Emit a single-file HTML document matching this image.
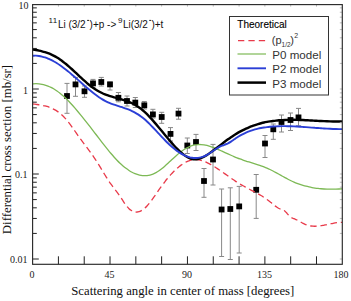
<!DOCTYPE html>
<html><head><meta charset="utf-8"><style>
html,body{margin:0;padding:0;background:#fff;width:351px;height:301px;overflow:hidden}
svg{display:block}
.serif{font-family:"Liberation Serif",serif}
.sans{font-family:"Liberation Sans",sans-serif}
</style></head><body>
<svg width="351" height="301" viewBox="0 0 351 301">
<rect width="351" height="301" fill="#fff"/>
<path d="M67.00,83.40V113.30 M64.50,83.40h5 M64.50,113.30h5 M75.50,77.40V96.30 M73.00,77.40h5 M73.00,96.30h5 M84.50,86.00V97.30 M82.00,86.00h5 M82.00,97.30h5 M93.00,79.40V87.40 M90.50,79.40h5 M90.50,87.40h5 M101.30,77.40V86.00 M98.80,77.40h5 M98.80,86.00h5 M110.00,82.00V90.00 M107.50,82.00h5 M107.50,90.00h5 M118.40,92.50V101.80 M115.90,92.50h5 M115.90,101.80h5 M127.00,96.00V106.00 M124.50,96.00h5 M124.50,106.00h5 M135.30,97.50V107.50 M132.80,97.50h5 M132.80,107.50h5 M144.30,101.50V109.00 M141.80,101.50h5 M141.80,109.00h5 M152.90,109.30V118.00 M150.40,109.30h5 M150.40,118.00h5 M161.70,112.30V123.30 M159.20,112.30h5 M159.20,123.30h5 M178.50,108.30V119.20 M176.00,108.30h5 M176.00,119.20h5 M170.50,127.60V141.00 M168.00,127.60h5 M168.00,141.00h5 M187.30,138.00V153.50 M184.80,138.00h5 M184.80,153.50h5 M196.00,134.40V150.50 M193.50,134.40h5 M193.50,150.50h5 M213.00,144.40V185.00 M210.50,144.40h5 M210.50,185.00h5 M204.00,168.50V197.30 M201.50,168.50h5 M201.50,197.30h5 M221.60,189.00V256.50 M219.10,189.00h5 M219.10,256.50h5 M230.30,187.80V259.50 M227.80,187.80h5 M227.80,259.50h5 M239.20,186.40V253.00 M236.70,186.40h5 M236.70,253.00h5 M256.20,174.50V218.40 M253.70,174.50h5 M253.70,218.40h5 M265.00,135.50V157.50 M262.50,135.50h5 M262.50,157.50h5 M273.30,124.00V139.30 M270.80,124.00h5 M270.80,139.30h5 M281.50,115.00V132.00 M279.00,115.00h5 M279.00,132.00h5 M290.50,113.00V130.50 M288.00,113.00h5 M288.00,130.50h5 M298.50,108.40V125.80 M296.00,108.40h5 M296.00,125.80h5" stroke="#888" stroke-width="1" fill="none"/>
<g fill="#000"><rect x="64.10" y="93.10" width="5.8" height="5.8"/><rect x="72.60" y="81.50" width="5.8" height="5.8"/><rect x="81.60" y="88.40" width="5.8" height="5.8"/><rect x="90.10" y="80.50" width="5.8" height="5.8"/><rect x="98.40" y="79.10" width="5.8" height="5.8"/><rect x="107.10" y="81.50" width="5.8" height="5.8"/><rect x="115.50" y="94.90" width="5.8" height="5.8"/><rect x="124.10" y="98.10" width="5.8" height="5.8"/><rect x="132.40" y="99.70" width="5.8" height="5.8"/><rect x="141.40" y="102.40" width="5.8" height="5.8"/><rect x="150.00" y="111.50" width="5.8" height="5.8"/><rect x="158.80" y="114.10" width="5.8" height="5.8"/><rect x="175.60" y="110.70" width="5.8" height="5.8"/><rect x="167.60" y="131.00" width="5.8" height="5.8"/><rect x="184.40" y="142.60" width="5.8" height="5.8"/><rect x="193.10" y="139.10" width="5.8" height="5.8"/><rect x="210.10" y="156.60" width="5.8" height="5.8"/><rect x="201.10" y="178.10" width="5.8" height="5.8"/><rect x="218.70" y="206.60" width="5.8" height="5.8"/><rect x="227.40" y="206.10" width="5.8" height="5.8"/><rect x="236.30" y="203.50" width="5.8" height="5.8"/><rect x="253.30" y="186.90" width="5.8" height="5.8"/><rect x="262.10" y="140.60" width="5.8" height="5.8"/><rect x="270.40" y="126.40" width="5.8" height="5.8"/><rect x="278.60" y="119.10" width="5.8" height="5.8"/><rect x="287.60" y="117.10" width="5.8" height="5.8"/><rect x="295.60" y="114.50" width="5.8" height="5.8"/></g>
<g fill="none" stroke-linecap="butt" stroke-linejoin="round">
<path d="M33.00,103.97 C33.33,104.02 34.33,104.14 35.00,104.23 C35.67,104.32 36.33,104.40 37.00,104.49 C37.67,104.58 38.33,104.68 39.00,104.78 C39.67,104.88 40.33,104.99 41.00,105.11 C41.67,105.23 42.33,105.35 43.00,105.49 C43.67,105.63 44.33,105.78 45.00,105.95 C45.67,106.11 46.33,106.29 47.00,106.49 C47.67,106.69 48.33,106.90 49.00,107.14 C49.67,107.38 50.33,107.63 51.00,107.91 C51.67,108.19 52.33,108.50 53.00,108.82 C53.67,109.15 54.33,109.51 55.00,109.89 C55.67,110.27 56.33,110.68 57.00,111.12 C57.67,111.57 58.33,112.04 59.00,112.55 C59.67,113.05 60.33,113.59 61.00,114.17 C61.67,114.75 62.33,115.36 63.00,116.01 C63.67,116.67 64.33,117.36 65.00,118.09 C65.67,118.82 66.33,119.60 67.00,120.41 C67.67,121.21 68.33,122.06 69.00,122.93 C69.67,123.80 70.33,124.70 71.00,125.61 C71.67,126.52 72.33,127.46 73.00,128.40 C73.67,129.34 74.33,130.30 75.00,131.25 C75.67,132.20 76.33,133.17 77.00,134.12 C77.67,135.07 78.33,136.02 79.00,136.95 C79.67,137.89 80.33,138.81 81.00,139.71 C81.67,140.62 82.33,141.51 83.00,142.39 C83.67,143.28 84.33,144.15 85.00,145.02 C85.67,145.90 86.33,146.77 87.00,147.65 C87.67,148.52 88.33,149.40 89.00,150.30 C89.67,151.19 90.33,152.09 91.00,153.01 C91.67,153.93 92.33,154.86 93.00,155.82 C93.67,156.79 94.33,157.77 95.00,158.78 C95.67,159.79 96.33,160.83 97.00,161.89 C97.67,162.95 98.33,164.03 99.00,165.12 C99.67,166.21 100.33,167.32 101.00,168.43 C101.67,169.53 102.33,170.65 103.00,171.75 C103.67,172.85 104.33,173.95 105.00,175.03 C105.67,176.11 106.33,177.18 107.00,178.22 C107.67,179.26 108.33,180.29 109.00,181.27 C109.67,182.25 110.33,183.20 111.00,184.13 C111.67,185.05 112.33,185.93 113.00,186.81 C113.67,187.69 114.33,188.55 115.00,189.42 C115.67,190.29 116.33,191.15 117.00,192.05 C117.67,192.95 118.33,193.85 119.00,194.81 C119.67,195.76 120.33,196.76 121.00,197.78 C121.67,198.79 122.33,199.86 123.00,200.88 C123.67,201.90 124.33,202.94 125.00,203.88 C125.67,204.83 126.33,205.74 127.00,206.54 C127.67,207.33 128.33,208.04 129.00,208.66 C129.67,209.28 130.33,209.81 131.00,210.26 C131.67,210.71 132.33,211.06 133.00,211.34 C133.67,211.62 134.33,211.81 135.00,211.92 C135.67,212.03 136.33,212.06 137.00,212.01 C137.67,211.97 138.33,211.84 139.00,211.64 C139.67,211.44 140.33,211.16 141.00,210.81 C141.67,210.46 142.33,210.04 143.00,209.56 C143.67,209.08 144.33,208.53 145.00,207.93 C145.67,207.33 146.33,206.66 147.00,205.96 C147.67,205.25 148.33,204.49 149.00,203.69 C149.67,202.90 150.33,202.05 151.00,201.18 C151.67,200.31 152.33,199.40 153.00,198.46 C153.67,197.53 154.33,196.56 155.00,195.59 C155.67,194.62 156.33,193.62 157.00,192.65 C157.67,191.67 158.33,190.69 159.00,189.74 C159.67,188.78 160.33,187.84 161.00,186.91 C161.67,185.98 162.33,185.07 163.00,184.18 C163.67,183.28 164.33,182.40 165.00,181.55 C165.67,180.69 166.33,179.85 167.00,179.03 C167.67,178.20 168.33,177.40 169.00,176.62 C169.67,175.84 170.33,175.08 171.00,174.35 C171.67,173.61 172.33,172.89 173.00,172.20 C173.67,171.51 174.33,170.84 175.00,170.20 C175.67,169.56 176.33,168.94 177.00,168.34 C177.67,167.75 178.33,167.18 179.00,166.65 C179.67,166.11 180.33,165.59 181.00,165.11 C181.67,164.63 182.33,164.17 183.00,163.75 C183.67,163.32 184.33,162.93 185.00,162.56 C185.67,162.20 186.33,161.87 187.00,161.57 C187.67,161.27 188.33,161.00 189.00,160.77 C189.67,160.53 190.33,160.33 191.00,160.16 C191.67,160.00 192.33,159.87 193.00,159.77 C193.67,159.68 194.33,159.62 195.00,159.60 C195.67,159.58 196.33,159.60 197.00,159.65 C197.67,159.70 198.33,159.79 199.00,159.90 C199.67,160.02 200.33,160.17 201.00,160.35 C201.67,160.52 202.33,160.73 203.00,160.95 C203.67,161.18 204.33,161.44 205.00,161.71 C205.67,161.98 206.33,162.28 207.00,162.60 C207.67,162.91 208.33,163.24 209.00,163.59 C209.67,163.94 210.33,164.30 211.00,164.67 C211.67,165.05 212.33,165.44 213.00,165.83 C213.67,166.23 214.33,166.64 215.00,167.06 C215.67,167.48 216.33,167.91 217.00,168.34 C217.67,168.78 218.33,169.22 219.00,169.67 C219.67,170.12 220.33,170.58 221.00,171.04 C221.67,171.50 222.33,171.97 223.00,172.43 C223.67,172.90 224.33,173.37 225.00,173.85 C225.67,174.32 226.33,174.79 227.00,175.27 C227.67,175.74 228.33,176.21 229.00,176.69 C229.67,177.16 230.33,177.63 231.00,178.09 C231.67,178.56 232.33,179.02 233.00,179.48 C233.67,179.94 234.33,180.39 235.00,180.84 C235.67,181.29 236.33,181.73 237.00,182.16 C237.67,182.59 238.33,183.02 239.00,183.43 C239.67,183.84 240.33,184.25 241.00,184.64 C241.67,185.03 242.33,185.42 243.00,185.79 C243.67,186.17 244.33,186.54 245.00,186.90 C245.67,187.27 246.33,187.62 247.00,187.98 C247.67,188.33 248.33,188.68 249.00,189.03 C249.67,189.38 250.33,189.73 251.00,190.07 C251.67,190.42 252.33,190.77 253.00,191.12 C253.67,191.47 254.33,191.82 255.00,192.18 C255.67,192.54 256.33,192.90 257.00,193.26 C257.67,193.63 258.33,194.00 259.00,194.39 C259.67,194.77 260.33,195.16 261.00,195.56 C261.67,195.96 262.33,196.37 263.00,196.80 C263.67,197.22 264.33,197.65 265.00,198.10 C265.67,198.55 266.33,199.02 267.00,199.50 C267.67,199.98 268.33,200.47 269.00,200.99 C269.67,201.51 270.33,202.05 271.00,202.59 C271.67,203.13 272.33,203.70 273.00,204.25 C273.67,204.79 274.33,205.35 275.00,205.86 C275.67,206.37 276.33,206.87 277.00,207.31 C277.67,207.75 278.33,208.16 279.00,208.49 C279.67,208.83 280.33,209.06 281.00,209.32 C281.67,209.57 282.33,209.71 283.00,210.03 C283.67,210.35 284.33,210.70 285.00,211.24 C285.67,211.79 286.33,212.59 287.00,213.32 C287.67,214.05 288.33,214.97 289.00,215.64 C289.67,216.32 290.33,216.92 291.00,217.37 C291.67,217.83 292.33,218.07 293.00,218.35 C293.67,218.63 294.33,218.80 295.00,219.07 C295.67,219.34 296.33,219.64 297.00,219.97 C297.67,220.30 298.33,220.68 299.00,221.05 C299.67,221.42 300.33,221.82 301.00,222.20 C301.67,222.58 302.33,222.97 303.00,223.32 C303.67,223.67 304.33,224.02 305.00,224.31 C305.67,224.60 306.33,224.86 307.00,225.08 C307.67,225.30 308.33,225.48 309.00,225.64 C309.67,225.79 310.33,225.91 311.00,226.00 C311.67,226.09 312.33,226.16 313.00,226.20 C313.67,226.24 314.33,226.25 315.00,226.24 C315.67,226.24 316.33,226.21 317.00,226.16 C317.67,226.12 318.33,226.06 319.00,225.98 C319.67,225.90 320.33,225.81 321.00,225.71 C321.67,225.61 322.33,225.49 323.00,225.37 C323.67,225.25 324.33,225.11 325.00,224.98 C325.67,224.84 326.33,224.70 327.00,224.56 C327.67,224.42 328.33,224.27 329.00,224.12 C329.67,223.98 330.33,223.84 331.00,223.70 C331.67,223.56 332.33,223.42 333.00,223.30 C333.67,223.17 334.33,223.05 335.00,222.94 C335.67,222.83 336.33,222.73 337.00,222.65 C337.67,222.57 338.33,222.49 339.00,222.44 C339.67,222.39 340.50,222.35 341.00,222.33 C341.50,222.31 341.83,222.32 342.00,222.32" stroke="#e83a4a" stroke-width="1.3" stroke-dasharray="6.5,3.8"/>
<path d="M33.00,83.80 C33.50,83.77 35.00,83.66 36.00,83.67 C37.00,83.67 38.00,83.72 39.00,83.83 C40.00,83.93 41.00,84.08 42.00,84.28 C43.00,84.48 44.00,84.73 45.00,85.03 C46.00,85.33 47.00,85.67 48.00,86.07 C49.00,86.47 50.00,86.92 51.00,87.41 C52.00,87.91 53.00,88.45 54.00,89.05 C55.00,89.64 56.00,90.29 57.00,90.98 C58.00,91.68 59.00,92.42 60.00,93.22 C61.00,94.01 62.00,94.86 63.00,95.75 C64.00,96.63 65.00,97.57 66.00,98.54 C67.00,99.51 68.00,100.53 69.00,101.57 C70.00,102.61 71.00,103.70 72.00,104.80 C73.00,105.90 74.00,107.04 75.00,108.19 C76.00,109.35 77.00,110.53 78.00,111.72 C79.00,112.92 80.00,114.13 81.00,115.36 C82.00,116.58 83.00,117.83 84.00,119.08 C85.00,120.33 86.00,121.60 87.00,122.87 C88.00,124.15 89.00,125.43 90.00,126.72 C91.00,128.01 92.00,129.31 93.00,130.60 C94.00,131.90 95.00,133.21 96.00,134.51 C97.00,135.81 98.00,137.11 99.00,138.41 C100.00,139.71 101.00,141.01 102.00,142.30 C103.00,143.59 104.00,144.87 105.00,146.14 C106.00,147.40 107.00,148.66 108.00,149.89 C109.00,151.12 110.00,152.33 111.00,153.51 C112.00,154.69 113.00,155.85 114.00,156.97 C115.00,158.08 116.00,159.17 117.00,160.21 C118.00,161.25 119.00,162.26 120.00,163.21 C121.00,164.17 122.00,165.07 123.00,165.93 C124.00,166.78 125.00,167.59 126.00,168.34 C127.00,169.10 128.00,169.80 129.00,170.44 C130.00,171.09 131.00,171.68 132.00,172.21 C133.00,172.74 134.00,173.21 135.00,173.63 C136.00,174.04 137.00,174.40 138.00,174.69 C139.00,174.98 140.00,175.21 141.00,175.37 C142.00,175.53 143.00,175.63 144.00,175.66 C145.00,175.69 146.00,175.66 147.00,175.55 C148.00,175.44 149.00,175.27 150.00,175.02 C151.00,174.77 152.00,174.45 153.00,174.05 C154.00,173.65 155.00,173.18 156.00,172.64 C157.00,172.09 158.00,171.45 159.00,170.77 C160.00,170.08 161.00,169.31 162.00,168.51 C163.00,167.71 164.00,166.85 165.00,165.97 C166.00,165.09 167.00,164.17 168.00,163.25 C169.00,162.32 170.00,161.37 171.00,160.44 C172.00,159.51 173.00,158.56 174.00,157.65 C175.00,156.74 176.00,155.84 177.00,154.99 C178.00,154.13 179.00,153.30 180.00,152.53 C181.00,151.75 182.00,151.01 183.00,150.33 C184.00,149.65 185.00,149.01 186.00,148.43 C187.00,147.86 188.00,147.33 189.00,146.88 C190.00,146.43 191.00,146.04 192.00,145.72 C193.00,145.40 194.00,145.15 195.00,144.96 C196.00,144.76 197.00,144.64 198.00,144.56 C199.00,144.49 200.00,144.48 201.00,144.53 C202.00,144.57 203.00,144.68 204.00,144.83 C205.00,144.98 206.00,145.20 207.00,145.45 C208.00,145.70 209.00,146.00 210.00,146.33 C211.00,146.66 212.00,147.03 213.00,147.41 C214.00,147.79 215.00,148.20 216.00,148.61 C217.00,149.02 218.00,149.45 219.00,149.88 C220.00,150.31 221.00,150.76 222.00,151.20 C223.00,151.65 224.00,152.10 225.00,152.55 C226.00,153.00 227.00,153.45 228.00,153.90 C229.00,154.35 230.00,154.80 231.00,155.24 C232.00,155.68 233.00,156.12 234.00,156.54 C235.00,156.97 236.00,157.39 237.00,157.79 C238.00,158.19 239.00,158.58 240.00,158.95 C241.00,159.32 242.00,159.68 243.00,160.02 C244.00,160.37 245.00,160.70 246.00,161.02 C247.00,161.35 248.00,161.66 249.00,161.97 C250.00,162.28 251.00,162.59 252.00,162.90 C253.00,163.21 254.00,163.52 255.00,163.83 C256.00,164.15 257.00,164.47 258.00,164.80 C259.00,165.13 260.00,165.46 261.00,165.82 C262.00,166.17 263.00,166.53 264.00,166.92 C265.00,167.31 266.00,167.71 267.00,168.13 C268.00,168.56 269.00,169.01 270.00,169.48 C271.00,169.96 272.00,170.46 273.00,170.98 C274.00,171.50 275.00,172.05 276.00,172.60 C277.00,173.15 278.00,173.71 279.00,174.28 C280.00,174.84 281.00,175.42 282.00,175.99 C283.00,176.55 284.00,177.12 285.00,177.67 C286.00,178.22 287.00,178.76 288.00,179.28 C289.00,179.80 290.00,180.30 291.00,180.78 C292.00,181.25 293.00,181.71 294.00,182.13 C295.00,182.56 296.00,182.97 297.00,183.35 C298.00,183.73 299.00,184.09 300.00,184.43 C301.00,184.77 302.00,185.09 303.00,185.39 C304.00,185.68 305.00,185.96 306.00,186.22 C307.00,186.48 308.00,186.71 309.00,186.93 C310.00,187.16 311.00,187.36 312.00,187.54 C313.00,187.73 314.00,187.89 315.00,188.04 C316.00,188.19 317.00,188.33 318.00,188.45 C319.00,188.57 320.00,188.67 321.00,188.76 C322.00,188.85 323.00,188.92 324.00,188.98 C325.00,189.04 326.00,189.09 327.00,189.13 C328.00,189.16 329.00,189.18 330.00,189.19 C331.00,189.21 332.00,189.20 333.00,189.19 C334.00,189.18 335.00,189.16 336.00,189.13 C337.00,189.10 338.00,189.06 339.00,189.01 C340.00,188.96 341.50,188.86 342.00,188.83" stroke="#7db955" stroke-width="1.3"/>
<path d="M33.00,49.58 C33.50,49.65 35.00,49.87 36.00,50.04 C37.00,50.21 38.00,50.40 39.00,50.61 C40.00,50.82 41.00,51.05 42.00,51.31 C43.00,51.56 44.00,51.84 45.00,52.16 C46.00,52.47 47.00,52.81 48.00,53.19 C49.00,53.56 50.00,53.97 51.00,54.42 C52.00,54.86 53.00,55.35 54.00,55.87 C55.00,56.40 56.00,56.97 57.00,57.58 C58.00,58.18 59.00,58.84 60.00,59.52 C61.00,60.21 62.00,60.93 63.00,61.69 C64.00,62.44 65.00,63.23 66.00,64.05 C67.00,64.86 68.00,65.71 69.00,66.58 C70.00,67.45 71.00,68.35 72.00,69.26 C73.00,70.18 74.00,71.11 75.00,72.05 C76.00,72.99 77.00,73.94 78.00,74.88 C79.00,75.83 80.00,76.78 81.00,77.71 C82.00,78.63 83.00,79.56 84.00,80.46 C85.00,81.35 86.00,82.24 87.00,83.08 C88.00,83.92 89.00,84.75 90.00,85.52 C91.00,86.29 92.00,87.03 93.00,87.72 C94.00,88.42 95.00,89.08 96.00,89.70 C97.00,90.31 98.00,90.90 99.00,91.44 C100.00,91.99 101.00,92.50 102.00,92.97 C103.00,93.45 104.00,93.88 105.00,94.29 C106.00,94.70 107.00,95.07 108.00,95.42 C109.00,95.78 110.00,96.09 111.00,96.40 C112.00,96.72 113.00,97.00 114.00,97.29 C115.00,97.57 116.00,97.84 117.00,98.12 C118.00,98.39 119.00,98.66 120.00,98.95 C121.00,99.23 122.00,99.52 123.00,99.82 C124.00,100.13 125.00,100.45 126.00,100.80 C127.00,101.15 128.00,101.51 129.00,101.92 C130.00,102.32 131.00,102.75 132.00,103.23 C133.00,103.71 134.00,104.22 135.00,104.78 C136.00,105.35 137.00,105.96 138.00,106.63 C139.00,107.31 140.00,108.04 141.00,108.82 C142.00,109.61 143.00,110.47 144.00,111.37 C145.00,112.27 146.00,113.23 147.00,114.22 C148.00,115.21 149.00,116.26 150.00,117.33 C151.00,118.40 152.00,119.51 153.00,120.65 C154.00,121.78 155.00,122.94 156.00,124.12 C157.00,125.30 158.00,126.50 159.00,127.70 C160.00,128.91 161.00,130.13 162.00,131.34 C163.00,132.56 164.00,133.78 165.00,134.99 C166.00,136.20 167.00,137.41 168.00,138.60 C169.00,139.79 170.00,140.97 171.00,142.12 C172.00,143.26 173.00,144.40 174.00,145.49 C175.00,146.58 176.00,147.65 177.00,148.67 C178.00,149.69 179.00,150.67 180.00,151.59 C181.00,152.50 182.00,153.37 183.00,154.16 C184.00,154.95 185.00,155.68 186.00,156.31 C187.00,156.94 188.00,157.51 189.00,157.96 C190.00,158.41 191.00,158.78 192.00,159.02 C193.00,159.26 194.00,159.40 195.00,159.42 C196.00,159.43 197.00,159.31 198.00,159.10 C199.00,158.89 200.00,158.56 201.00,158.17 C202.00,157.77 203.00,157.28 204.00,156.74 C205.00,156.20 206.00,155.58 207.00,154.94 C208.00,154.30 209.00,153.60 210.00,152.89 C211.00,152.19 212.00,151.45 213.00,150.71 C214.00,149.97 215.00,149.22 216.00,148.45 C217.00,147.69 218.00,146.92 219.00,146.15 C220.00,145.38 221.00,144.60 222.00,143.84 C223.00,143.07 224.00,142.30 225.00,141.55 C226.00,140.80 227.00,140.06 228.00,139.34 C229.00,138.61 230.00,137.91 231.00,137.22 C232.00,136.54 233.00,135.87 234.00,135.23 C235.00,134.59 236.00,133.97 237.00,133.38 C238.00,132.78 239.00,132.20 240.00,131.65 C241.00,131.10 242.00,130.57 243.00,130.06 C244.00,129.56 245.00,129.07 246.00,128.61 C247.00,128.15 248.00,127.71 249.00,127.29 C250.00,126.87 251.00,126.48 252.00,126.11 C253.00,125.73 254.00,125.38 255.00,125.04 C256.00,124.71 257.00,124.39 258.00,124.10 C259.00,123.80 260.00,123.53 261.00,123.27 C262.00,123.01 263.00,122.76 264.00,122.54 C265.00,122.31 266.00,122.11 267.00,121.91 C268.00,121.72 269.00,121.55 270.00,121.38 C271.00,121.22 272.00,121.07 273.00,120.94 C274.00,120.81 275.00,120.69 276.00,120.58 C277.00,120.47 278.00,120.38 279.00,120.30 C280.00,120.21 281.00,120.14 282.00,120.08 C283.00,120.02 284.00,119.97 285.00,119.93 C286.00,119.89 287.00,119.86 288.00,119.84 C289.00,119.82 290.00,119.81 291.00,119.81 C292.00,119.80 293.00,119.80 294.00,119.81 C295.00,119.82 296.00,119.84 297.00,119.86 C298.00,119.89 299.00,119.92 300.00,119.95 C301.00,119.98 302.00,120.02 303.00,120.06 C304.00,120.10 305.00,120.15 306.00,120.20 C307.00,120.24 308.00,120.30 309.00,120.35 C310.00,120.40 311.00,120.46 312.00,120.51 C313.00,120.57 314.00,120.62 315.00,120.68 C316.00,120.74 317.00,120.79 318.00,120.85 C319.00,120.90 320.00,120.96 321.00,121.01 C322.00,121.06 323.00,121.11 324.00,121.15 C325.00,121.20 326.00,121.24 327.00,121.28 C328.00,121.32 329.00,121.35 330.00,121.38 C331.00,121.41 332.00,121.44 333.00,121.46 C334.00,121.47 335.00,121.49 336.00,121.49 C337.00,121.49 338.00,121.49 339.00,121.48 C340.00,121.47 341.50,121.43 342.00,121.42" stroke="#000" stroke-width="2.4"/>
<path d="M33.00,55.69 C33.50,55.69 35.00,55.62 36.00,55.67 C37.00,55.71 38.00,55.81 39.00,55.96 C40.00,56.11 41.00,56.31 42.00,56.55 C43.00,56.80 44.00,57.09 45.00,57.42 C46.00,57.76 47.00,58.14 48.00,58.56 C49.00,58.97 50.00,59.44 51.00,59.93 C52.00,60.43 53.00,60.96 54.00,61.53 C55.00,62.09 56.00,62.69 57.00,63.32 C58.00,63.95 59.00,64.62 60.00,65.30 C61.00,65.99 62.00,66.71 63.00,67.45 C64.00,68.18 65.00,68.95 66.00,69.73 C67.00,70.52 68.00,71.32 69.00,72.14 C70.00,72.96 71.00,73.81 72.00,74.66 C73.00,75.51 74.00,76.38 75.00,77.25 C76.00,78.13 77.00,79.01 78.00,79.89 C79.00,80.78 80.00,81.67 81.00,82.55 C82.00,83.44 83.00,84.32 84.00,85.20 C85.00,86.07 86.00,86.95 87.00,87.80 C88.00,88.66 89.00,89.50 90.00,90.33 C91.00,91.16 92.00,91.97 93.00,92.76 C94.00,93.54 95.00,94.31 96.00,95.05 C97.00,95.78 98.00,96.50 99.00,97.17 C100.00,97.85 101.00,98.50 102.00,99.10 C103.00,99.71 104.00,100.28 105.00,100.81 C106.00,101.34 107.00,101.82 108.00,102.27 C109.00,102.73 110.00,103.14 111.00,103.53 C112.00,103.93 113.00,104.29 114.00,104.64 C115.00,105.00 116.00,105.32 117.00,105.65 C118.00,105.98 119.00,106.29 120.00,106.62 C121.00,106.94 122.00,107.25 123.00,107.58 C124.00,107.92 125.00,108.25 126.00,108.61 C127.00,108.97 128.00,109.34 129.00,109.74 C130.00,110.15 131.00,110.57 132.00,111.04 C133.00,111.51 134.00,112.00 135.00,112.55 C136.00,113.10 137.00,113.68 138.00,114.33 C139.00,114.97 140.00,115.67 141.00,116.42 C142.00,117.17 143.00,117.99 144.00,118.84 C145.00,119.70 146.00,120.60 147.00,121.54 C148.00,122.47 149.00,123.45 150.00,124.45 C151.00,125.45 152.00,126.48 153.00,127.52 C154.00,128.57 155.00,129.63 156.00,130.70 C157.00,131.76 158.00,132.84 159.00,133.91 C160.00,134.98 161.00,136.05 162.00,137.11 C163.00,138.16 164.00,139.21 165.00,140.23 C166.00,141.25 167.00,142.26 168.00,143.22 C169.00,144.19 170.00,145.13 171.00,146.02 C172.00,146.92 173.00,147.77 174.00,148.58 C175.00,149.40 176.00,150.17 177.00,150.89 C178.00,151.61 179.00,152.29 180.00,152.91 C181.00,153.54 182.00,154.11 183.00,154.63 C184.00,155.15 185.00,155.62 186.00,156.03 C187.00,156.43 188.00,156.79 189.00,157.07 C190.00,157.36 191.00,157.59 192.00,157.75 C193.00,157.91 194.00,158.01 195.00,158.04 C196.00,158.06 197.00,158.02 198.00,157.91 C199.00,157.79 200.00,157.61 201.00,157.35 C202.00,157.08 203.00,156.74 204.00,156.33 C205.00,155.91 206.00,155.39 207.00,154.84 C208.00,154.28 209.00,153.63 210.00,152.99 C211.00,152.34 212.00,151.64 213.00,150.97 C214.00,150.30 215.00,149.60 216.00,148.96 C217.00,148.33 218.00,147.70 219.00,147.16 C220.00,146.63 221.00,146.17 222.00,145.74 C223.00,145.30 224.00,144.96 225.00,144.55 C226.00,144.14 227.00,143.77 228.00,143.28 C229.00,142.79 230.00,142.24 231.00,141.62 C232.00,141.00 233.00,140.24 234.00,139.55 C235.00,138.87 236.00,138.16 237.00,137.52 C238.00,136.88 239.00,136.27 240.00,135.70 C241.00,135.12 242.00,134.59 243.00,134.08 C244.00,133.58 245.00,133.10 246.00,132.66 C247.00,132.22 248.00,131.80 249.00,131.42 C250.00,131.03 251.00,130.68 252.00,130.34 C253.00,130.01 254.00,129.71 255.00,129.43 C256.00,129.14 257.00,128.89 258.00,128.65 C259.00,128.41 260.00,128.20 261.00,128.01 C262.00,127.81 263.00,127.64 264.00,127.48 C265.00,127.33 266.00,127.19 267.00,127.07 C268.00,126.94 269.00,126.84 270.00,126.75 C271.00,126.65 272.00,126.57 273.00,126.51 C274.00,126.44 275.00,126.38 276.00,126.34 C277.00,126.29 278.00,126.26 279.00,126.23 C280.00,126.20 281.00,126.18 282.00,126.17 C283.00,126.17 284.00,126.17 285.00,126.17 C286.00,126.18 287.00,126.19 288.00,126.21 C289.00,126.24 290.00,126.26 291.00,126.30 C292.00,126.33 293.00,126.37 294.00,126.42 C295.00,126.46 296.00,126.51 297.00,126.56 C298.00,126.62 299.00,126.68 300.00,126.74 C301.00,126.80 302.00,126.87 303.00,126.94 C304.00,127.00 305.00,127.07 306.00,127.15 C307.00,127.22 308.00,127.29 309.00,127.37 C310.00,127.44 311.00,127.52 312.00,127.60 C313.00,127.67 314.00,127.75 315.00,127.83 C316.00,127.90 317.00,127.98 318.00,128.05 C319.00,128.12 320.00,128.20 321.00,128.27 C322.00,128.34 323.00,128.40 324.00,128.47 C325.00,128.53 326.00,128.59 327.00,128.65 C328.00,128.71 329.00,128.76 330.00,128.81 C331.00,128.86 332.00,128.90 333.00,128.94 C334.00,128.98 335.00,129.01 336.00,129.04 C337.00,129.06 338.00,129.08 339.00,129.10 C340.00,129.11 341.50,129.11 342.00,129.11" stroke="#2b3fd6" stroke-width="1.9"/>
</g>
<path d="M32.60,259.00h6.2 M32.60,233.41h4.2 M32.60,218.44h4.2 M32.60,207.82h4.2 M32.60,199.59h4.2 M32.60,192.86h4.2 M32.60,187.17h4.2 M32.60,182.24h4.2 M32.60,177.89h4.2 M32.60,174.00h6.2 M32.60,148.41h4.2 M32.60,133.44h4.2 M32.60,122.82h4.2 M32.60,114.59h4.2 M32.60,107.86h4.2 M32.60,102.17h4.2 M32.60,97.24h4.2 M32.60,92.89h4.2 M32.60,89.00h6.2 M32.60,63.41h4.2 M32.60,48.44h4.2 M32.60,37.82h4.2 M32.60,29.59h4.2 M32.60,22.86h4.2 M32.60,17.17h4.2 M32.60,12.24h4.2 M32.60,7.89h4.2 M58.41,264.30v-8 M84.22,264.30v-8 M110.03,264.30v-8 M135.83,264.30v-8 M161.64,264.30v-8 M187.45,264.30v-8 M213.26,264.30v-8 M239.07,264.30v-8 M264.88,264.30v-8 M290.68,264.30v-8 M316.49,264.30v-8" stroke="#222" stroke-width="1" fill="none"/>
<path d="M342.30,259.00h-2.5 M342.30,233.41h-2.5 M342.30,218.44h-2.5 M342.30,207.82h-2.5 M342.30,199.59h-2.5 M342.30,192.86h-2.5 M342.30,187.17h-2.5 M342.30,182.24h-2.5 M342.30,177.89h-2.5 M342.30,174.00h-2.5 M342.30,148.41h-2.5 M342.30,133.44h-2.5 M342.30,122.82h-2.5 M342.30,114.59h-2.5 M342.30,107.86h-2.5 M342.30,102.17h-2.5 M342.30,97.24h-2.5 M342.30,92.89h-2.5 M342.30,89.00h-2.5 M342.30,63.41h-2.5 M342.30,48.44h-2.5 M342.30,37.82h-2.5 M342.30,29.59h-2.5 M342.30,22.86h-2.5 M342.30,17.17h-2.5 M342.30,12.24h-2.5 M342.30,7.89h-2.5" stroke="#bbb" stroke-width="1" fill="none"/>
<path d="M58.41,4.60v2 M84.22,4.60v2 M110.03,4.60v2 M135.83,4.60v2 M161.64,4.60v2 M187.45,4.60v2 M213.26,4.60v2 M239.07,4.60v2 M264.88,4.60v2 M290.68,4.60v2 M316.49,4.60v2" stroke="#bbb" stroke-width="1" fill="none"/>
<rect x="32.6" y="4.6" width="309.7" height="259.7" fill="none" stroke="#2a2a2a" stroke-width="1.15"/>
<g class="serif" font-size="10" fill="#222" text-anchor="end">
<text x="28.5" y="8.6">10</text>
<text x="28" y="93.5">1</text>
<text x="27.5" y="178">0.1</text>
<text x="27.5" y="263">0.01</text>
</g>
<g class="serif" font-size="10" fill="#222" text-anchor="middle">
<text x="32" y="277.5">0</text>
<text x="109.5" y="277.5">45</text>
<text x="187" y="277.5">90</text>
<text x="264.5" y="277.5">135</text>
<text x="341" y="277.5">180</text>
</g>
<text class="serif" font-size="12.75" fill="#111" x="182.8" y="295.4" text-anchor="middle">Scattering angle in center of mass [degrees]</text>
<text class="serif" font-size="12.8" fill="#111" transform="translate(10.8,149.5) rotate(-90)" text-anchor="middle">Differential cross section [mb/sr]</text>
<g class="sans" fill="#111" font-size="10">
<text x="48.4" y="22.7" font-size="8" letter-spacing="0.5">11</text>
<text x="57.9" y="28">Li (3/2</text>
<rect x="87.1" y="19.9" width="1.9" height="1" fill="#222"/>
<text x="89.6" y="28">)+p -&gt;</text>
<text x="118.1" y="22.7" font-size="8">9</text>
<text x="122.9" y="28">Li(3/2</text>
<rect x="149.2" y="19.9" width="1.9" height="1" fill="#222"/>
<text x="151.4" y="28">)+t</text>
</g>
<rect x="229.5" y="16.5" width="99" height="78.5" fill="#fff" stroke="#333" stroke-width="1"/>
<g class="sans" fill="#333">
<text x="237.3" y="28" font-size="10" fill="#000" stroke="#000" stroke-width="0.12">Theoretical</text>
<text x="271.8" y="44.1" font-size="11">(p<tspan font-size="6.5" dy="2.5">1/2</tspan><tspan dy="-2.5" dx="-0.3">)</tspan><tspan font-size="7" dy="-6.3" dx="0.3">2</tspan></text>
<text x="272.3" y="59" font-size="11.6">P0 model</text>
<text x="272.3" y="73.2" font-size="11.6">P2 model</text>
<text x="272.3" y="87.7" font-size="11.6">P3 model</text>
</g>
<g fill="none">
<path d="M238,40.6H265.5" stroke="#e83a4a" stroke-width="1.3" stroke-dasharray="6.3,4.1"/>
<path d="M237.5,54H266" stroke="#7db955" stroke-width="1.2"/>
<path d="M237.5,68.3H266" stroke="#2b3fd6" stroke-width="1.9"/>
<path d="M237.5,82.6H266" stroke="#000" stroke-width="2.5"/>
</g>
</svg>
</body></html>
